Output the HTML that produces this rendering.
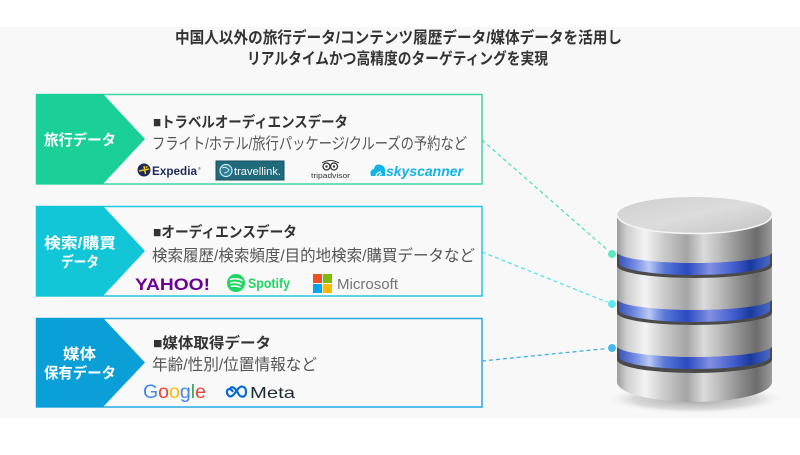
<!DOCTYPE html>
<html><head><meta charset="utf-8"><style>
html,body{margin:0;padding:0;background:#fff;}
svg{display:block;}
text{font-family:"Liberation Sans","Noto Sans CJK JP",sans-serif;}
</style></head><body>
<svg width="800" height="455" viewBox="0 0 800 455" xmlns="http://www.w3.org/2000/svg">
<defs>
<linearGradient id="metal" x1="0" x2="1" y1="0" y2="0">
<stop offset="0" stop-color="#9c9c9c"/>
<stop offset="0.06" stop-color="#cdcdcd"/>
<stop offset="0.18" stop-color="#f3f3f3"/>
<stop offset="0.32" stop-color="#c6c6c6"/>
<stop offset="0.45" stop-color="#a4a4a4"/>
<stop offset="0.56" stop-color="#dadada"/>
<stop offset="0.66" stop-color="#bcbcbc"/>
<stop offset="0.8" stop-color="#8a8a8a"/>
<stop offset="0.9" stop-color="#6c6c6c"/>
<stop offset="1" stop-color="#9a9a9a"/>
</linearGradient>
<linearGradient id="topf" x1="0" x2="1" y1="0" y2="1">
<stop offset="0" stop-color="#cfcfcf"/>
<stop offset="0.5" stop-color="#dcdcdc"/>
<stop offset="1" stop-color="#c4c4c4"/>
</linearGradient>
<linearGradient id="blue" x1="0" x2="1" y1="0" y2="0">
<stop offset="0" stop-color="#3a55b8"/>
<stop offset="0.1" stop-color="#7088e0"/>
<stop offset="0.2" stop-color="#b8c8f5"/>
<stop offset="0.3" stop-color="#5a78d8"/>
<stop offset="0.45" stop-color="#2a4ac0"/>
<stop offset="0.6" stop-color="#8090e0"/>
<stop offset="0.75" stop-color="#4860d0"/>
<stop offset="0.87" stop-color="#1a3aa0"/>
<stop offset="1" stop-color="#4a68c8"/>
</linearGradient>
<radialGradient id="shadow" cx="0.5" cy="0.5" r="0.5">
<stop offset="0" stop-color="#707070" stop-opacity="0.7"/>
<stop offset="0.7" stop-color="#a0a0a0" stop-opacity="0.35"/>
<stop offset="1" stop-color="#f8f8f8" stop-opacity="0"/>
</radialGradient>
</defs>

<rect x="0" y="27" width="800" height="391" fill="#f8f8f8"/>

<!-- Title -->
<text x="175" y="43" font-size="16" font-weight="bold" fill="#333" textLength="447" lengthAdjust="spacingAndGlyphs">中国人以外の旅行データ/コンテンツ履歴データ/媒体データを活用し</text>
<text x="247" y="64" font-size="16" font-weight="bold" fill="#333" textLength="301" lengthAdjust="spacingAndGlyphs">リアルタイムかつ高精度のターゲティングを実現</text>

<!-- Dashed connectors -->
<line x1="482" y1="140" x2="612" y2="254" stroke="#55e0c0" stroke-width="1.3" stroke-dasharray="4 3"/>
<line x1="482" y1="252" x2="612" y2="304" stroke="#55e2f0" stroke-width="1.3" stroke-dasharray="4 3"/>
<line x1="482" y1="361" x2="612" y2="348" stroke="#40b0f0" stroke-width="1.3" stroke-dasharray="4 3"/>

<!-- Box 1 -->
<rect x="36.5" y="94.5" width="445.5" height="89.5" fill="#f9f9f9" stroke="#40d6a8" stroke-width="1.5"/>
<polygon points="36,94 103,94 145,139 103,184 36,184" fill="#1bcf98"/>
<text x="44" y="145" font-size="15" font-weight="bold" fill="#fff" textLength="72" lengthAdjust="spacingAndGlyphs">旅行データ</text>
<text x="153" y="127" font-size="15" font-weight="bold" fill="#333" textLength="195" lengthAdjust="spacingAndGlyphs">■トラベルオーディエンスデータ</text>
<text x="152" y="149" font-size="16" fill="#555" textLength="315" lengthAdjust="spacingAndGlyphs">フライト/ホテル/旅行パッケージ/クルーズの予約など</text>
<!-- Expedia -->
<circle cx="144" cy="170" r="6.5" fill="#1e2a5a"/>
<path d="M139 171 L149 169 M144 166 L145.5 174 M146 167.5 L147.5 166.5" stroke="#f5c518" stroke-width="1.6" fill="none"/>
<text x="152" y="175" font-size="12" font-weight="bold" fill="#1e2a5a" textLength="45" lengthAdjust="spacingAndGlyphs">Expedia</text>
<text x="198" y="170" font-size="4" fill="#1e2a5a">®</text>
<!-- travellink -->
<rect x="216" y="161" width="68" height="19" fill="#1f6a7b" stroke="#17505d" stroke-width="1"/>
<circle cx="226" cy="170.5" r="6" fill="#2a8094" stroke="#cfe8ee" stroke-width="1.2"/>
<path d="M222 168 Q226 166 229 170 Q227 173 224 173" stroke="#cfe8ee" stroke-width="1" fill="none"/>
<text x="234" y="175" font-size="11" fill="#fff" textLength="47" lengthAdjust="spacingAndGlyphs">travellink.</text>
<!-- tripadvisor -->
<path d="M322 163 Q330 158 339 163" stroke="#333" stroke-width="1" fill="none"/>
<circle cx="326.5" cy="166.5" r="3.5" fill="#fff" stroke="#333" stroke-width="1.3"/>
<circle cx="334" cy="166.5" r="3.5" fill="#fff" stroke="#333" stroke-width="1.3"/>
<circle cx="326.5" cy="166.5" r="1.2" fill="#333"/>
<circle cx="334" cy="166.5" r="1.2" fill="#333"/>
<text x="311" y="178" font-size="7.5" fill="#333" textLength="39" lengthAdjust="spacingAndGlyphs">tripadvisor</text>
<!-- skyscanner -->
<path d="M371 176 Q369 170 374 169 Q375 163 381 165 Q385 166 385 170 L385 176 Z" fill="#10b4e6"/>
<path d="M376 176 Q377 172 381 172 M379 176 Q380 174 382 174" stroke="#fff" stroke-width="1.2" fill="none"/>
<text x="386" y="176" font-size="14" font-weight="bold" font-style="italic" fill="#10b4e6" textLength="77" lengthAdjust="spacingAndGlyphs">skyscanner</text>

<!-- Box 2 -->
<rect x="36.5" y="206.5" width="445.5" height="89.5" fill="#f9f9f9" stroke="#22c8e0" stroke-width="1.5"/>
<polygon points="36,206 103,206 145,251 103,296 36,296" fill="#12c6d8"/>
<text x="44" y="248" font-size="15" font-weight="bold" fill="#fff" textLength="72" lengthAdjust="spacingAndGlyphs">検索/購買</text>
<text x="61" y="267" font-size="15" font-weight="bold" fill="#fff" textLength="38" lengthAdjust="spacingAndGlyphs">データ</text>
<text x="153" y="237" font-size="15" font-weight="bold" fill="#333" textLength="144" lengthAdjust="spacingAndGlyphs">■オーディエンスデータ</text>
<text x="152" y="261" font-size="16" fill="#555" textLength="323" lengthAdjust="spacingAndGlyphs">検索履歴/検索頻度/目的地検索/購買データなど</text>
<!-- Yahoo -->
<text x="135" y="290" font-family="Liberation Serif, serif" font-size="17" font-weight="bold" fill="#6d0095" textLength="75" lengthAdjust="spacingAndGlyphs">YAHOO!</text>
<!-- Spotify -->
<circle cx="236" cy="283" r="9" fill="#1ed760"/>
<path d="M230.5 279.5 Q236.5 277.5 242 280.5 M231 283 Q236.5 281.5 241 284 M231.5 286.3 Q236 285.3 240 287.3" stroke="#f9f9f9" stroke-width="1.6" fill="none" stroke-linecap="round"/>
<text x="248" y="288" font-size="14" font-weight="bold" fill="#1ed760" textLength="42" lengthAdjust="spacingAndGlyphs">Spotify</text>
<!-- Microsoft -->
<rect x="313" y="274" width="9" height="9" fill="#f25022"/>
<rect x="323" y="274" width="9" height="9" fill="#7fba00"/>
<rect x="313" y="284" width="9" height="9" fill="#00a4ef"/>
<rect x="323" y="284" width="9" height="9" fill="#ffb900"/>
<text x="337" y="289" font-size="15" fill="#737373" textLength="61" lengthAdjust="spacingAndGlyphs">Microsoft</text>

<!-- Box 3 -->
<rect x="36.5" y="318.5" width="445.5" height="88.5" fill="#f9f9f9" stroke="#28a8e0" stroke-width="1.5"/>
<polygon points="36,318 103,318 145,362.5 103,407 36,407" fill="#0a9fd6"/>
<text x="63" y="359" font-size="15" font-weight="bold" fill="#fff" textLength="33" lengthAdjust="spacingAndGlyphs">媒体</text>
<text x="44" y="378" font-size="15" font-weight="bold" fill="#fff" textLength="72" lengthAdjust="spacingAndGlyphs">保有データ</text>
<text x="153" y="348" font-size="15" font-weight="bold" fill="#333" textLength="118" lengthAdjust="spacingAndGlyphs">■媒体取得データ</text>
<text x="152" y="370" font-size="16" fill="#555" textLength="165" lengthAdjust="spacingAndGlyphs">年齢/性別/位置情報など</text>
<!-- Google -->
<text x="143" y="398" font-size="19" textLength="63" lengthAdjust="spacingAndGlyphs"><tspan fill="#4285f4">G</tspan><tspan fill="#ea4335">o</tspan><tspan fill="#fbbc05">o</tspan><tspan fill="#4285f4">g</tspan><tspan fill="#34a853">l</tspan><tspan fill="#ea4335">e</tspan></text>
<!-- Meta -->
<path d="M233 392 C229 385 224 392 229 396 C232 398 235 393 238 389 C241 385 246 386 246 392 C246 398 240 398 238 393 C235 388 233 386 230 388" stroke="#0668e1" stroke-width="2.2" fill="none"/>
<text x="250" y="398" font-size="16" fill="#1c2b33" textLength="45" lengthAdjust="spacingAndGlyphs">Meta</text>

<!-- Database cylinder -->
<ellipse cx="695" cy="399" rx="90" ry="15" fill="url(#shadow)"/>
<!-- disk 4 (bottom) -->
<path d="M617 360 L617 382 A77.5 20 0 0 0 772 382 L772 360 A77.5 13 0 0 1 617 360 Z" fill="url(#metal)"/>
<path d="M617.5 360 A77.5 13 0 0 0 771.5 360" stroke="#f0f0f0" stroke-width="1.2" fill="none"/>
<!-- band 3 -->
<path d="M617 346 L617 360 A77.5 13 0 0 0 772 360 L772 346 A77.5 11 0 0 1 617 346 Z" fill="#4a4a4a"/>
<path d="M619 346 L619 357 A75.5 12 0 0 0 770 357 L770 346 A75.5 11 0 0 1 619 346 Z" fill="url(#blue)"/>
<!-- disk 3 -->
<path d="M617 313 L617 346 A77.5 11 0 0 0 772 346 L772 313 A77.5 12 0 0 1 617 313 Z" fill="url(#metal)"/>
<path d="M617.5 313 A77.5 12 0 0 0 771.5 313" stroke="#f0f0f0" stroke-width="1.2" fill="none"/>
<!-- band 2 -->
<path d="M617 299 L617 313 A77.5 12 0 0 0 772 313 L772 299 A77.5 11 0 0 1 617 299 Z" fill="#4a4a4a"/>
<path d="M619 299 L619 310 A75.5 12 0 0 0 770 310 L770 299 A75.5 11 0 0 1 619 299 Z" fill="url(#blue)"/>
<!-- disk 2 -->
<path d="M617 266 L617 299 A77.5 11 0 0 0 772 299 L772 266 A77.5 12 0 0 1 617 266 Z" fill="url(#metal)"/>
<path d="M617.5 266 A77.5 12 0 0 0 771.5 266" stroke="#f0f0f0" stroke-width="1.2" fill="none"/>
<!-- band 1 -->
<path d="M617 252 L617 266 A77.5 12 0 0 0 772 266 L772 252 A77.5 11 0 0 1 617 252 Z" fill="#4a4a4a"/>
<path d="M619 252 L619 263 A75.5 12 0 0 0 770 263 L770 252 A75.5 11 0 0 1 619 252 Z" fill="url(#blue)"/>
<!-- disk 1 -->
<path d="M617 215 L617 252 A77.5 11 0 0 0 772 252 L772 215 A77.5 18 0 0 1 617 215 Z" fill="url(#metal)"/>
<ellipse cx="694.5" cy="215" rx="77.5" ry="18" fill="url(#topf)"/>
<path d="M617.5 215.5 A77 18 0 0 0 771.5 215.5" stroke="#f4f4f4" stroke-width="1.5" fill="none"/>

<!-- dots -->
<circle cx="612" cy="254" r="4.5" fill="#5de8c0" stroke="#fff" stroke-width="1"/>
<circle cx="612" cy="304" r="4.5" fill="#5ee8f2" stroke="#fff" stroke-width="1"/>
<circle cx="612" cy="348" r="4.5" fill="#45b8f0" stroke="#fff" stroke-width="1"/>
</svg>
</body></html>
